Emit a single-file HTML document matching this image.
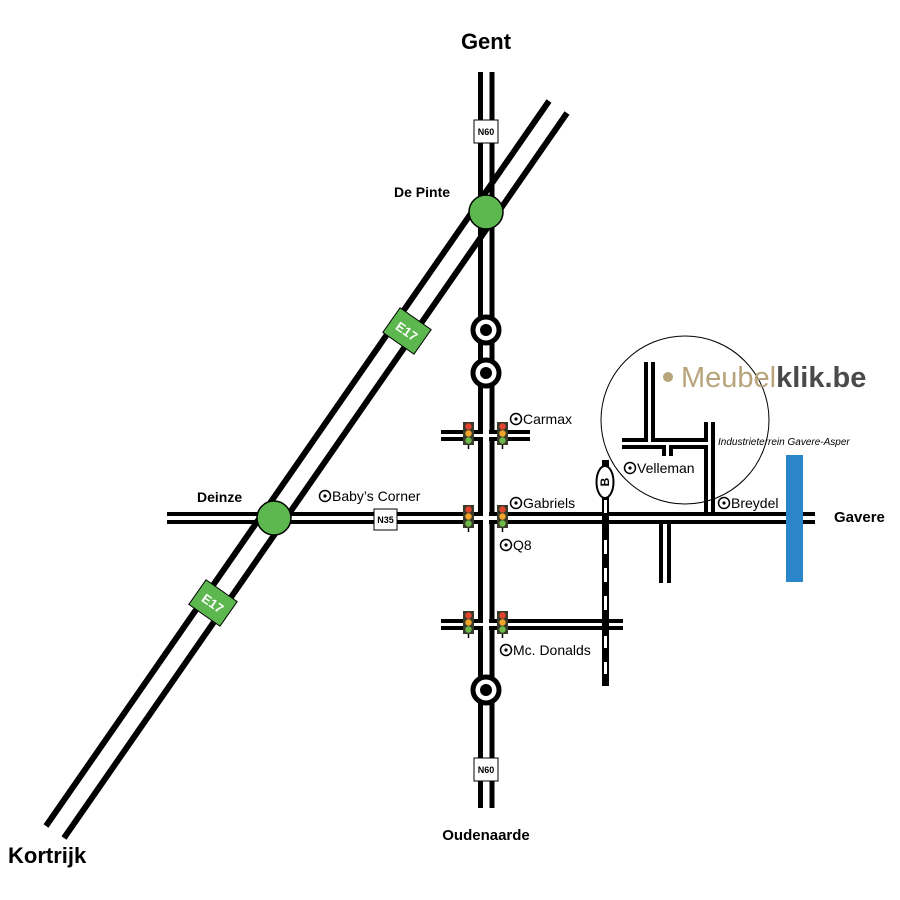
<!DOCTYPE html>
<html><head><meta charset="utf-8"><style>
html,body{margin:0;padding:0;background:#fff}
svg{display:block}
text{font-family:"Liberation Sans",Arial,sans-serif}
</style></head><body>
<svg width="900" height="900" viewBox="0 0 900 900" xmlns="http://www.w3.org/2000/svg">
<rect width="900" height="900" fill="#fff"/>
<!-- E17 highway -->
<g stroke="#000" stroke-width="6" stroke-linecap="butt">
<line x1="549" y1="101" x2="46" y2="826"/>
<line x1="567" y1="113" x2="64" y2="838"/>
</g>
<!-- N35 -->
<g stroke="#000" stroke-width="4">
<line x1="167" y1="514" x2="478" y2="514"/>
<line x1="167" y1="522" x2="478" y2="522"/>
<line x1="495" y1="514" x2="815" y2="514"/>
<line x1="495" y1="522" x2="815" y2="522"/>
<!-- Carmax road -->
<line x1="441" y1="432" x2="478" y2="432"/>
<line x1="441" y1="439" x2="478" y2="439"/>
<line x1="495" y1="432" x2="530" y2="432"/>
<line x1="495" y1="439" x2="530" y2="439"/>
<!-- McDonalds road -->
<line x1="441" y1="621" x2="478" y2="621"/>
<line x1="441" y1="628" x2="478" y2="628"/>
<line x1="495" y1="621" x2="623" y2="621"/>
<line x1="495" y1="628" x2="623" y2="628"/>
<!-- road down from N35 -->
<line x1="661" y1="524" x2="661" y2="583"/>
<line x1="669" y1="524" x2="669" y2="583"/>
<!-- industrial -->
<polyline fill="none" points="646,362 646,440 622,440"/>
<polyline fill="none" points="653,362 653,440 706,440 706,422"/>
<polyline fill="none" points="622,447 664,447 664,456"/>
<polyline fill="none" points="671,456 671,447 706,447 706,512"/>
<line x1="713" y1="422" x2="713" y2="512"/>
</g>
<!-- N60 -->
<g stroke="#000" stroke-width="5">
<line x1="480.5" y1="72" x2="480.5" y2="808"/>
<line x1="492" y1="72" x2="492" y2="808"/>
</g>
<!-- crossing gaps on N60 -->
<g fill="#fff">
<rect x="476" y="434" width="19" height="3"/>
<rect x="476" y="516" width="19" height="4"/>
<rect x="476" y="623" width="19" height="3"/>
<rect x="483" y="430" width="6" height="11"/>
<rect x="483" y="512" width="6" height="12"/>
<rect x="483" y="619" width="6" height="11"/>
</g>
<g stroke="#000" stroke-width="4">
<line x1="478" y1="432" x2="483" y2="432"/><line x1="478" y1="439" x2="483" y2="439"/>
<line x1="489" y1="432" x2="495" y2="432"/><line x1="489" y1="439" x2="495" y2="439"/>
<line x1="478" y1="514" x2="483" y2="514"/><line x1="478" y1="522" x2="483" y2="522"/>
<line x1="489" y1="514" x2="495" y2="514"/><line x1="489" y1="522" x2="495" y2="522"/>
<line x1="478" y1="621" x2="483" y2="621"/><line x1="478" y1="628" x2="483" y2="628"/>
<line x1="489" y1="621" x2="495" y2="621"/><line x1="489" y1="628" x2="495" y2="628"/>
</g>
<!-- roundabouts -->
<g>
<circle cx="486" cy="330" r="13" fill="#fff" stroke="#000" stroke-width="5"/><circle cx="486" cy="330" r="6" fill="#000"/>
<circle cx="486" cy="373" r="13" fill="#fff" stroke="#000" stroke-width="5"/><circle cx="486" cy="373" r="6" fill="#000"/>
<circle cx="486" cy="690" r="13" fill="#fff" stroke="#000" stroke-width="5"/><circle cx="486" cy="690" r="6" fill="#000"/>
</g>
<!-- green interchanges -->
<circle cx="486" cy="212" r="17" fill="#5cb84e" stroke="#000" stroke-width="1.5"/>
<circle cx="274" cy="518" r="17" fill="#5cb84e" stroke="#000" stroke-width="1.5"/>
<!-- railway -->
<rect x="602" y="460" width="7" height="226" fill="#000"/>
<g fill="#fff">
<rect x="604" y="500" width="3" height="13"/><rect x="604" y="540" width="3" height="14"/>
<rect x="604" y="568" width="3" height="14"/><rect x="604" y="596" width="3" height="14"/>
<rect x="604" y="636" width="3" height="12"/><rect x="604" y="662" width="3" height="12"/>
</g>
<ellipse cx="605" cy="482" rx="8.5" ry="16" fill="#fff" stroke="#000" stroke-width="2"/>
<text x="605" y="482" font-size="12" font-weight="bold" text-anchor="middle" transform="rotate(-90 605 482)" dy="4">B</text>
<!-- blue river -->
<rect x="786" y="455" width="17" height="127" fill="#2a86c8"/>
<!-- circle -->
<circle cx="685" cy="420" r="84" fill="none" stroke="#000" stroke-width="1"/>
<!-- signs -->
<g font-weight="bold" font-size="9" text-anchor="middle">
<rect x="474" y="120" width="24" height="23" fill="#fff" stroke="#000" stroke-width="1"/><text x="486" y="135">N60</text>
<rect x="474" y="758" width="24" height="23" fill="#fff" stroke="#000" stroke-width="1"/><text x="486" y="773">N60</text>
<rect x="374" y="509" width="23" height="21" fill="#fff" stroke="#000" stroke-width="1"/><text x="385.5" y="523">N35</text>
</g>
<g transform="translate(407,331) rotate(35)">
<rect x="-19" y="-15" width="38" height="30" fill="#5cb84e" stroke="#000" stroke-width="1"/>
<text x="0" y="5" font-size="13" font-weight="bold" fill="#fff" text-anchor="middle">E17</text>
</g>
<g transform="translate(213,603) rotate(35)">
<rect x="-19" y="-15" width="38" height="30" fill="#5cb84e" stroke="#000" stroke-width="1"/>
<text x="0" y="5" font-size="13" font-weight="bold" fill="#fff" text-anchor="middle">E17</text>
</g>
<!-- traffic lights -->
<defs>
<g id="tl">
<line x1="5.5" y1="20" x2="5.5" y2="27" stroke="#000" stroke-width="1.5"/>
<rect x="0" y="0" width="11" height="23" fill="#3a3a2a"/>
<circle cx="5.5" cy="4.5" r="3.2" fill="#e2452d"/>
<circle cx="5.5" cy="11.5" r="3.2" fill="#f3a52a"/>
<circle cx="5.5" cy="18.5" r="3.2" fill="#6cba4a"/>
</g>
</defs>
<use href="#tl" x="463" y="422"/><use href="#tl" x="497" y="422"/>
<use href="#tl" x="463" y="505"/><use href="#tl" x="497" y="505"/>
<use href="#tl" x="463" y="611"/><use href="#tl" x="497" y="611"/>
<!-- POI markers -->
<g fill="none" stroke="#000" stroke-width="1.5">
<circle cx="516" cy="419" r="5.5"/><circle cx="325" cy="496" r="5.5"/><circle cx="516" cy="503" r="5.5"/>
<circle cx="506" cy="545" r="5.5"/><circle cx="506" cy="650" r="5.5"/><circle cx="630" cy="468" r="5.5"/><circle cx="724" cy="503" r="5.5"/>
</g>
<g fill="#000">
<circle cx="516" cy="419" r="1.6"/><circle cx="325" cy="496" r="1.6"/><circle cx="516" cy="503" r="1.6"/>
<circle cx="506" cy="545" r="1.6"/><circle cx="506" cy="650" r="1.6"/><circle cx="630" cy="468" r="1.6"/><circle cx="724" cy="503" r="1.6"/>
</g>
<g font-size="14" fill="#000">
<text x="523" y="424">Carmax</text>
<text x="332" y="501">Baby’s Corner</text>
<text x="523" y="508">Gabriels</text>
<text x="513" y="550">Q8</text>
<text x="513" y="655">Mc. Donalds</text>
<text x="637" y="473">Velleman</text>
<text x="731" y="508">Breydel</text>
</g>
<text x="718" y="445" font-size="10" font-style="italic">Industrieterrein Gavere-Asper</text>
<!-- logo -->
<circle cx="668" cy="377" r="5" fill="#b8a47a"/>
<text x="681" y="387" font-size="29" fill="#b8a47a">Meubel<tspan fill="#4a4a4a" font-weight="bold">klik.be</tspan></text>
<!-- place names -->
<g font-weight="bold" fill="#000">
<text x="486" y="49" font-size="22" text-anchor="middle">Gent</text>
<text x="394" y="197" font-size="14">De Pinte</text>
<text x="197" y="502" font-size="14">Deinze</text>
<text x="834" y="522" font-size="15">Gavere</text>
<text x="486" y="840" font-size="15" text-anchor="middle">Oudenaarde</text>
<text x="8" y="863" font-size="22">Kortrijk</text>
</g>
</svg>
</body></html>
